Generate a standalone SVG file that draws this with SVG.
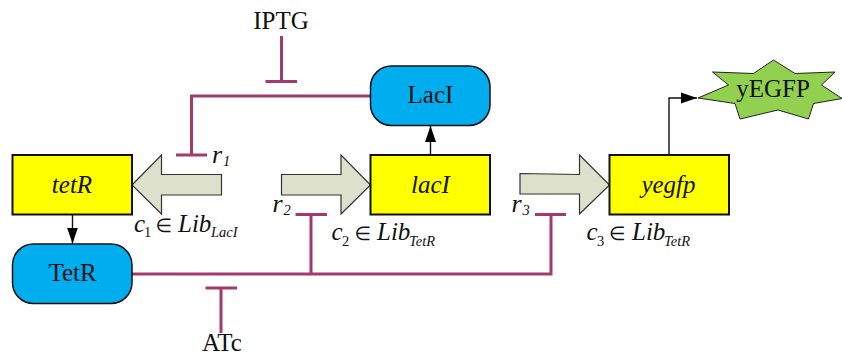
<svg xmlns="http://www.w3.org/2000/svg" width="842" height="356" viewBox="0 0 842 356">
<style>
text{font-family:"Liberation Serif","Times New Roman",serif;fill:#111}
.gene{fill:#ffff00;stroke:#111;stroke-width:2}
.prot{fill:#00aeef;stroke:#111;stroke-width:1.5}
.prom{fill:#dde1cb;stroke:#333;stroke-width:1.2}
.inh{fill:none;stroke:#a23a6e;stroke-width:3}
.act{fill:none;stroke:#111;stroke-width:1.4}
.lbl{font-size:25px;text-anchor:middle}
.it{font-style:italic}
.math{font-size:25px}
.r{font-size:26px;font-style:italic}
.sub{font-size:14.500px;font-style:italic}
.dig{font-size:14.500px}
.el{font-size:19px;font-family:"DejaVu Sans",sans-serif}
</style>
<defs>
<marker id="ah" markerUnits="userSpaceOnUse" markerWidth="17" markerHeight="12" refX="16" refY="6" orient="auto"><path d="M0 0.500L16 6L0 11.500Z" fill="#000"/></marker>
</defs>
<g id="connectors">
<path class="inh" d="M370 96H191.500V155M176 155H207"/>
<path class="inh" d="M281.500 36V81.500M265.500 81.500H297"/>
<path class="inh" d="M132 274H551V214.500M535 214.500H566M311 274V214.500M295.500 214.500H327"/>
<path class="inh" d="M221 333V288M205.500 288H237"/>
<path class="act" marker-end="url(#ah)" d="M72.500 214.500V243.500"/>
<path class="act" marker-end="url(#ah)" d="M430.500 155V126"/>
<path class="act" marker-end="url(#ah)" d="M669 155V98H697"/>
</g>
<g id="prom1"><path class="prom" d="M132 185L161.500 155V174.500H221.500V195H161.500V214Z"/></g>
<g id="prom2"><path class="prom" d="M281.500 174.500H341V155L370.500 185L341 214V195H281.500Z"/></g>
<g id="prom3"><path class="prom" d="M520 173.500L579.500 174.500V155L609.500 185L579.500 214V194H520Z"/></g>
<g id="tetR"><rect class="gene" x="12.500" y="155" width="119.500" height="59.500"/><text class="lbl it" x="72" y="192.500">tetR</text></g>
<g id="lacI"><rect class="gene" x="370.500" y="155" width="119.500" height="59.500"/><text class="lbl it" x="430.500" y="192.500">lacI</text></g>
<g id="yegfp"><rect class="gene" x="609.500" y="155" width="119.500" height="59.500"/><text class="lbl it" x="668.500" y="192.500">yegfp</text></g>
<g id="TetR"><rect class="prot" x="12.500" y="244" width="119.500" height="59.500" rx="21" ry="21"/><text class="lbl" x="72.500" y="281">TetR</text></g>
<g id="LacI"><rect class="prot" x="370.500" y="66" width="119.500" height="59.500" rx="21" ry="21"/><text class="lbl" x="430.500" y="103">LacI</text></g>
<g id="yEGFP"><path d="M773.500 60L795 73.500L835 72L821.500 85L842 98.500L813.500 103.500L808.500 119L778 110L740 119L735 103.500L698 98L728.500 85L712.500 72L753.500 73.500Z" fill="#92d050" stroke="#222" stroke-width="1"/><text class="lbl" x="773" y="97">yEGFP</text></g>
<g id="IPTG"><text class="lbl" x="281" y="29">IPTG</text></g>
<g id="ATc"><text class="lbl" x="222" y="350.500">ATc</text></g>
<g id="labels">
<text class="r" x="212" y="163">r</text><text class="sub" x="223" y="166">1</text>
<text class="r" x="272.500" y="212">r</text><text class="sub" x="283.500" y="215">2</text>
<text class="r" x="511.500" y="212">r</text><text class="sub" x="522.500" y="215">3</text>
<text class="math it" x="134" y="232">c</text><text class="dig" x="144" y="237">1</text><text class="el" x="155.500" y="232">∈</text><text class="math it" x="178" y="232">Lib</text><text class="sub" x="211" y="237">LacI</text>
<text class="math it" x="331.500" y="240">c</text><text class="dig" x="342" y="245.500">2</text><text class="el" x="354.500" y="240">∈</text><text class="math it" x="377" y="240">Lib</text><text class="sub" x="409" y="245.500">TetR</text>
<text class="math it" x="586.500" y="240">c</text><text class="dig" x="597" y="245.500">3</text><text class="el" x="609" y="240">∈</text><text class="math it" x="632" y="240">Lib</text><text class="sub" x="664" y="245.500">TetR</text>
</g>
</svg>
